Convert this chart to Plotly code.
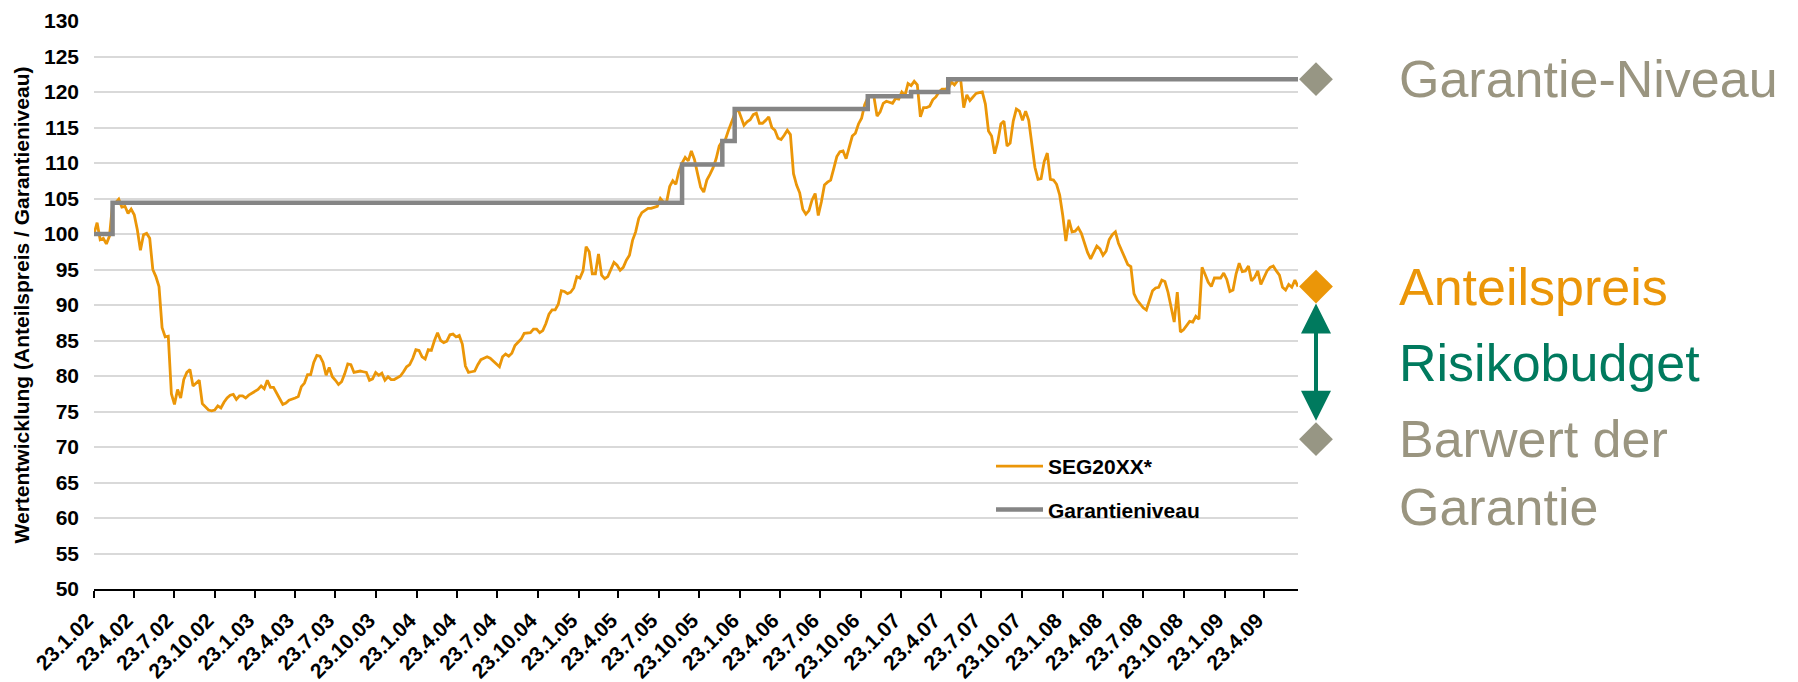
import pandas as pd
import plotly.graph_objects as go

# ---------------- data ----------------
start_date = "2002-01-23"          # first weekly observation
anteilspreis = [
    100.0, 101.6, 99.2, 99.4, 98.6, 99.7, 104.2, 104.4, 104.9, 103.8,
    103.9, 102.9, 103.5, 102.7, 100.6, 97.7, 99.9, 100.1, 99.4, 95.0,
    94.0, 92.6, 86.8, 85.5, 85.6, 77.5, 76.0, 78.1, 76.9, 79.5,
    80.5, 80.9, 78.6, 79.0, 79.4, 76.1, 75.6, 75.2, 75.1, 75.2,
    75.8, 75.5, 76.3, 76.9, 77.3, 77.4, 76.7, 77.2, 77.2, 76.9,
    77.3, 77.6, 77.8, 78.1, 78.6, 78.2, 79.4, 78.4, 78.4, 77.7,
    76.8, 76.0, 76.2, 76.6, 76.7, 76.9, 77.1, 78.5, 79.0, 80.2,
    80.2, 81.9, 82.9, 82.8, 81.9, 80.1, 81.2, 79.9, 79.4, 78.8,
    79.2, 80.3, 81.7, 81.6, 80.5, 80.6, 80.7, 80.6, 80.5, 79.4,
    79.6, 80.5, 80.1, 80.4, 79.4, 79.9, 79.5, 79.5, 79.7, 80.0,
    80.6, 81.3, 81.6, 82.5, 83.7, 83.6, 82.7, 82.4, 83.7, 83.6,
    85.0, 86.1, 85.0, 84.7, 84.9, 85.8, 85.9, 85.5, 85.7, 84.5,
    81.4, 80.5, 80.6, 80.7, 81.6, 82.3, 82.5, 82.7, 82.5, 82.1,
    81.6, 81.3, 82.7, 83.1, 82.8, 83.2, 84.3, 84.7, 85.2, 86.0,
    86.0, 86.1, 86.6, 86.6, 86.1, 86.4, 87.4, 88.7, 89.3, 89.3,
    90.1, 92.0, 91.9, 91.6, 91.8, 92.4, 94.0, 93.8, 94.8, 98.2,
    97.5, 94.4, 94.4, 97.2, 94.2, 93.7, 94.0, 95.1, 96.0, 95.6,
    94.9, 95.3, 96.3, 97.0, 99.1, 100.3, 102.2, 103.0, 103.3, 103.6,
    103.6, 103.8, 103.9, 105.0, 104.5, 104.5, 106.7, 107.5, 107.0, 108.9,
    110.0, 110.8, 110.3, 111.7, 110.5, 108.5, 106.6, 105.9, 107.6, 108.4,
    109.3, 110.6, 112.4, 113.1, 113.3, 114.6, 115.7, 116.9, 117.7, 116.5,
    115.3, 115.8, 116.1, 116.8, 117.0, 115.6, 115.6, 116.0, 116.5, 115.0,
    114.6, 113.5, 113.3, 113.9, 114.6, 114.0, 108.5, 106.9, 105.8, 103.5,
    102.8, 103.3, 104.8, 105.7, 102.6, 104.5, 106.9, 107.3, 107.6, 109.2,
    110.9, 111.6, 111.7, 110.6, 112.4, 113.8, 114.2, 115.5, 116.3, 118.2,
    119.2, 119.4, 119.3, 116.6, 117.2, 118.4, 118.7, 118.5, 118.4, 119.1,
    119.0, 120.0, 119.5, 121.2, 120.9, 121.5, 121.0, 116.5, 117.8, 117.8,
    118.0, 118.9, 119.3, 120.0, 120.4, 120.4, 120.5, 121.4, 121.0, 121.6,
    121.8, 117.8, 119.6, 118.8, 119.3, 119.8, 119.9, 120.0, 118.3, 114.5,
    113.8, 111.3, 113.0, 115.5, 115.9, 112.4, 112.8, 115.9, 117.6, 117.3,
    116.0, 117.3, 116.0, 112.6, 109.4, 107.7, 107.8, 110.2, 111.4, 107.7,
    107.6, 107.0, 105.5, 102.6, 99.0, 102.0, 100.3, 100.4, 100.9, 100.1,
    98.6, 97.4, 96.5, 97.4, 98.3, 97.9, 97.0, 97.6, 99.2, 99.9,
    100.3, 98.7, 97.7, 96.9, 95.7, 95.4, 91.6, 90.7, 90.2, 89.6,
    89.3, 90.5, 92.0, 92.4, 92.5, 93.5, 93.3, 91.8, 89.8, 87.6,
    91.8, 86.2, 86.5, 87.1, 87.7, 87.6, 88.4, 88.0, 95.3, 94.3,
    93.2, 92.6, 93.8, 93.8, 93.8, 94.5, 93.6, 91.9, 92.1, 94.4,
    95.9, 94.7, 94.8, 95.5, 93.4, 93.9, 94.8, 92.9, 93.9, 94.8,
    95.3, 95.5, 94.8, 94.2, 92.5, 92.1, 92.9, 92.5, 93.5, 92.6,
]
garantie_dates = ["2002-01-23", "2002-03-06", "2005-09-14", "2005-12-14", "2006-01-11",
                  "2006-11-08", "2007-02-14", "2007-05-09", "2009-07-08"]
garantie_values = [100.0, 104.4, 109.8, 113.1, 117.6, 119.4, 120.0, 121.8, 121.8]
barwert_garantie = 71.1
tick_labels = ["23.1.02", "23.4.02", "23.7.02", "23.10.02", "23.1.03", "23.4.03", "23.7.03",
               "23.10.03", "23.1.04", "23.4.04", "23.7.04", "23.10.04", "23.1.05", "23.4.05",
               "23.7.05", "23.10.05", "23.1.06", "23.4.06", "23.7.06", "23.10.06", "23.1.07",
               "23.4.07", "23.7.07", "23.10.07", "23.1.08", "23.4.08", "23.7.08", "23.10.08",
               "23.1.09", "23.4.09"]
series_names = ["SEG20XX*", "Garantieniveau"]
side_labels = ["Garantie-Niveau", "Anteilspreis", "Risikobudget", "Barwert der<br>Garantie"]

# ---------------- styling ----------------
ORANGE = "#EB9608"
GRAY_LINE = "#858585"
KHAKI = "#9A9580"
KHAKI_DIAMOND = "#979684"
TEAL = "#007A5E"
GRID = "#D9D9D9"
FONT = "Liberation Sans, Arial, Helvetica, sans-serif"

# geometry (window pixels); the page body has an 8 px margin
WIN_W, WIN_H, BODY = 1798, 682, 8
PLOT_LEFT, PLOT_TOP, PLOT_BOTTOM, MAIN_RIGHT = 94, 21, 589, 1298
W, H = WIN_W - BODY, WIN_H - BODY
L, T = PLOT_LEFT - BODY, PLOT_TOP - BODY
B = H - (PLOT_BOTTOM - BODY)
R = 0
plot_w = W - L - R
plot_h = PLOT_BOTTOM - PLOT_TOP
main_w = MAIN_RIGHT - PLOT_LEFT
split = main_w / plot_w


def px_x(xw):   # window x -> paper x
    return (xw - PLOT_LEFT) / plot_w


def px_y(yw):   # window y -> paper y
    return (PLOT_BOTTOM - yw) / plot_h


dates = pd.date_range(start_date, periods=len(anteilspreis), freq="7D")
tick_dates = [pd.to_datetime(t, format="%d.%m.%y") for t in tick_labels]

fig = go.Figure()

fig.add_trace(go.Scatter(
    x=dates, y=anteilspreis, mode="lines", name=series_names[0],
    line=dict(color=ORANGE, width=2.8), legendgroup="a",
))
fig.add_trace(go.Scatter(
    x=pd.to_datetime(garantie_dates), y=garantie_values, mode="lines", name=series_names[1],
    line=dict(color=GRAY_LINE, width=4.5, shape="hv"), legendgroup="b",
))

# right-hand explanatory column (own x axis in pixels, same y scale)
mx = 18
fig.add_trace(go.Scatter(
    x=[mx, mx, mx], y=[garantie_values[-1], anteilspreis[-1], barwert_garantie],
    mode="markers", xaxis="x2", yaxis="y2", showlegend=False, hoverinfo="skip",
    marker=dict(symbol="diamond", size=26, color=[KHAKI_DIAMOND, ORANGE, KHAKI_DIAMOND],
                line=dict(width=0)),
    cliponaxis=False,
))

tx = 99
ann_font = dict(family=FONT, size=52)
annotations = [
    dict(x=tx, y=garantie_values[-1], text=side_labels[0], font=dict(ann_font, color=KHAKI)),
    dict(x=tx, y=anteilspreis[-1], text=side_labels[1], font=dict(ann_font, color=ORANGE)),
    dict(x=tx, y=(anteilspreis[-1] + barwert_garantie) / 2, text=side_labels[2],
         font=dict(ann_font, color=TEAL)),
    dict(x=tx, y=barwert_garantie, text=side_labels[3], yshift=-34, align="left",
         font=dict(ann_font, color=KHAKI)),
]
for a in annotations:
    a.update(xref="x2", yref="y2", xanchor="left", yanchor="middle", showarrow=False)
annotations.append(dict(
    x=mx, y=anteilspreis[-1], ax=mx, ay=barwert_garantie, xref="x2", yref="y2",
    axref="x2", ayref="y2", text="", showarrow=True, arrowside="end+start",
    arrowhead=2, startarrowhead=2, arrowsize=1.5, startarrowsize=1.5, arrowwidth=4,
    arrowcolor=TEAL, standoff=17, startstandoff=17,
))

fig.update_layout(
    width=W, height=H,
    margin=dict(l=L, r=R, t=T, b=B, pad=0, autoexpand=False),
    paper_bgcolor="white", plot_bgcolor="white",
    font=dict(family=FONT, color="black"),
    showlegend=True,
    legend=dict(
        x=px_x(991), y=px_y(446), xanchor="left", yanchor="top",
        bgcolor="rgba(255,255,255,0)", borderwidth=0,
        font=dict(family=FONT, size=21, color="black", weight="bold"),
        tracegroupgap=13, itemwidth=47, traceorder="grouped",
    ),
    xaxis=dict(
        type="date", domain=[0, split], automargin=False,
        range=[dates[0], dates[-1]],
        tickmode="array", tickvals=tick_dates, ticktext=tick_labels,
        tickangle=-45, ticklabelshift=-7, ticklabelstandoff=2,
        tickfont=dict(family=FONT, size=21, color="black", weight="bold"),
        showgrid=False, zeroline=False,
        showline=True, linecolor="black", linewidth=1.5,
        ticks="outside", ticklen=7, tickwidth=1.5, tickcolor="black",
    ),
    yaxis=dict(
        range=[50, 130], tick0=50, dtick=5, automargin=False,
        showgrid=True, gridcolor=GRID, gridwidth=1.5, zeroline=False, showline=False,
        ticks="", ticklabelstandoff=14,
        tickfont=dict(family=FONT, size=21, color="black", weight="bold"),
        title=dict(text="Wertentwicklung (Anteilspreis / Garantieniveau)", standoff=8,
                   font=dict(family=FONT, size=21, color="black", weight="bold")),
    ),
    xaxis2=dict(domain=[split, 1], range=[0, plot_w - main_w], anchor="y2",
                visible=False, fixedrange=True),
    yaxis2=dict(anchor="x2", matches="y", visible=False, showgrid=False),
    annotations=annotations,
    shapes=[dict(type="rect", xref="paper", yref="paper", layer="between",
                 x0=px_x(962), x1=px_x(1242), y0=px_y(540), y1=px_y(432),
                 fillcolor="white", line=dict(width=0))],
)

fig.write_html("out.html")
